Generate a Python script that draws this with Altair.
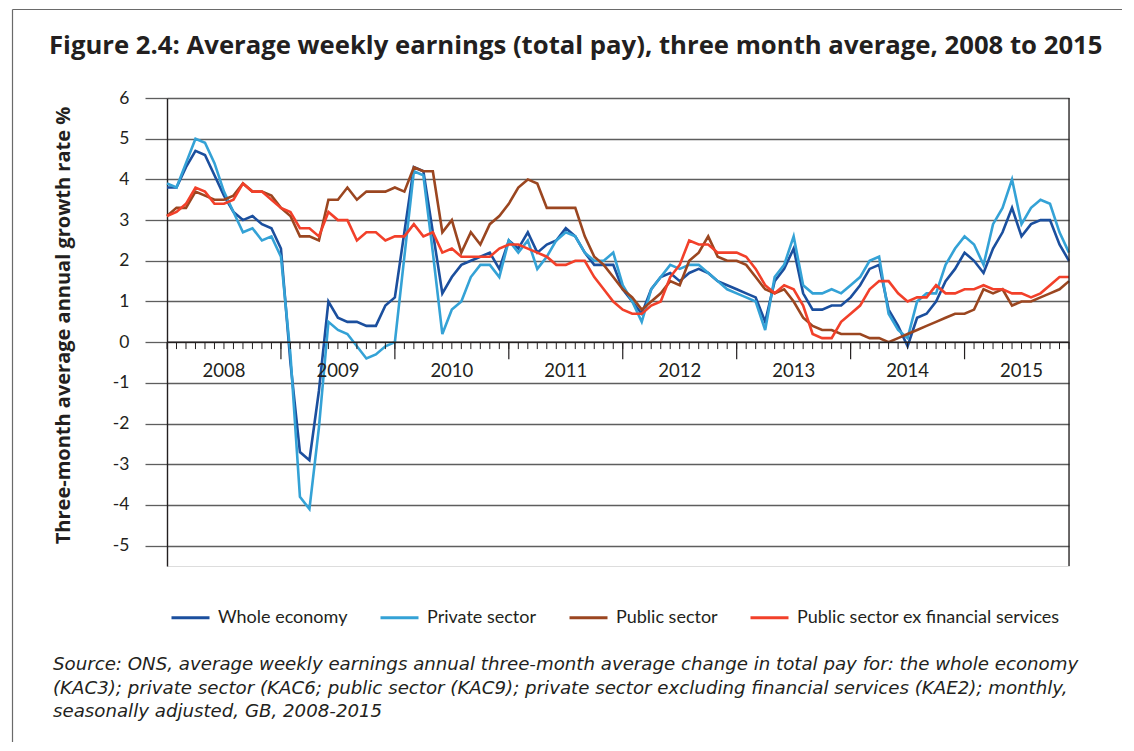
import altair as alt
import pandas as pd

# ---- data (monthly, Jan 2008 .. Dec 2015, index 0..95) ----
months = list(range(96))

whole_economy = [
    3.8, 3.8, 4.3, 4.7, 4.6, 4.1, 3.6, 3.2, 3.0, 3.1, 2.9, 2.8,
    2.3, -0.5, -2.7, -2.9, -1.2, 1.0, 0.6, 0.5, 0.5, 0.4, 0.4, 0.9,
    1.1, 2.7, 4.3, 4.2, 2.7, 1.2, 1.6, 1.9, 2.0, 2.1, 2.2, 1.8,
    2.5, 2.3, 2.7, 2.2, 2.4, 2.5, 2.8, 2.6, 2.2, 1.9, 1.9, 1.9,
    1.3, 1.0, 0.7, 1.3, 1.6, 1.7, 1.5, 1.7, 1.8, 1.7, 1.5, 1.4,
    1.3, 1.2, 1.1, 0.5, 1.5, 1.8, 2.3, 1.2, 0.8, 0.8, 0.9, 0.9,
    1.1, 1.4, 1.8, 1.9, 0.8, 0.4, -0.1, 0.6, 0.7, 1.0, 1.5, 1.8,
    2.2, 2.0, 1.7, 2.3, 2.7, 3.3, 2.6, 2.9, 3.0, 3.0, 2.4, 2.0,
]
private_sector = [
    3.9, 3.8, 4.4, 5.0, 4.9, 4.4, 3.7, 3.2, 2.7, 2.8, 2.5, 2.6,
    2.1, -0.3, -3.8, -4.1, -2.1, 0.5, 0.3, 0.2, -0.1, -0.4, -0.3, -0.1,
    0.0, 2.1, 4.2, 4.1, 2.2, 0.2, 0.8, 1.0, 1.6, 1.9, 1.9, 1.6,
    2.5, 2.2, 2.5, 1.8, 2.1, 2.5, 2.7, 2.6, 2.2, 2.0, 2.0, 2.2,
    1.4, 1.0, 0.5, 1.3, 1.6, 1.9, 1.8, 1.9, 1.9, 1.7, 1.5, 1.3,
    1.2, 1.1, 1.0, 0.3, 1.6, 1.9, 2.6, 1.4, 1.2, 1.2, 1.3, 1.2,
    1.4, 1.6, 2.0, 2.1, 0.7, 0.3, 0.1, 1.0, 1.2, 1.2, 1.9, 2.3,
    2.6, 2.4, 1.9, 2.9, 3.3, 4.0, 2.9, 3.3, 3.5, 3.4, 2.7, 2.2,
]
public_sector = [
    3.1, 3.3, 3.3, 3.7, 3.6, 3.5, 3.5, 3.6, 3.9, 3.7, 3.7, 3.6,
    3.3, 3.1, 2.6, 2.6, 2.5, 3.5, 3.5, 3.8, 3.5, 3.7, 3.7, 3.7,
    3.8, 3.7, 4.3, 4.2, 4.2, 2.7, 3.0, 2.2, 2.7, 2.4, 2.9, 3.1,
    3.4, 3.8, 4.0, 3.9, 3.3, 3.3, 3.3, 3.3, 2.6, 2.1, 1.9, 1.6,
    1.3, 1.1, 0.8, 1.0, 1.2, 1.5, 1.4, 2.0, 2.2, 2.6, 2.1, 2.0,
    2.0, 1.9, 1.6, 1.3, 1.2, 1.3, 1.0, 0.6, 0.4, 0.3, 0.3, 0.2,
    0.2, 0.2, 0.1, 0.1, 0.0, 0.1, 0.2, 0.3, 0.4, 0.5, 0.6, 0.7,
    0.7, 0.8, 1.3, 1.2, 1.3, 0.9, 1.0, 1.0, 1.1, 1.2, 1.3, 1.5,
]
public_ex_fin = [
    3.1, 3.2, 3.4, 3.8, 3.7, 3.4, 3.4, 3.5, 3.9, 3.7, 3.7, 3.5,
    3.3, 3.2, 2.8, 2.8, 2.6, 3.2, 3.0, 3.0, 2.5, 2.7, 2.7, 2.5,
    2.6, 2.6, 2.9, 2.6, 2.7, 2.2, 2.3, 2.1, 2.1, 2.1, 2.1, 2.3,
    2.4, 2.4, 2.3, 2.2, 2.1, 1.9, 1.9, 2.0, 2.0, 1.6, 1.3, 1.0,
    0.8, 0.7, 0.7, 0.9, 1.0, 1.6, 1.9, 2.5, 2.4, 2.4, 2.2, 2.2,
    2.2, 2.1, 1.8, 1.4, 1.2, 1.4, 1.3, 0.9, 0.2, 0.1, 0.1, 0.5,
    0.7, 0.9, 1.3, 1.5, 1.5, 1.2, 1.0, 1.1, 1.1, 1.4, 1.2, 1.2,
    1.3, 1.3, 1.4, 1.3, 1.3, 1.2, 1.2, 1.1, 1.2, 1.4, 1.6, 1.6,
]

series_names = ["Whole economy", "Private sector", "Public sector",
                "Public sector ex financial services"]
series_colors = ["#1b4f9e", "#34a2d6", "#9b4620", "#f2402a"]

year_labels = ["2008", "2009", "2010", "2011", "2012", "2013", "2014", "2015"]
year_centers = [6, 18, 30, 42, 54, 66, 78, 90]
major_ticks = [12, 24, 36, 48, 60, 72, 84]
y_ticks = [-5, -4, -3, -2, -1, 0, 1, 2, 3, 4, 5, 6]

title_text = "Figure 2.4: Average weekly earnings (total pay), three month average, 2008 to 2015"
source_lines = [
    "Source: ONS, average weekly earnings annual three-month average change in total pay for: the whole economy",
    "(KAC3); private sector (KAC6; public sector (KAC9); private sector excluding financial services (KAE2); monthly,",
    "seasonally adjusted, GB, 2008-2015",
]

FONT = "Lato"
FONT2 = "Open Sans"
FONT3 = "DejaVu Sans"
INK = "#231f20"
GRID = "#5e5e5e"

rows = []
for name, vals in zip(series_names, [whole_economy, private_sector, public_sector, public_ex_fin]):
    for m, v in zip(months, vals):
        rows.append({"month": m, "value": v, "series": name})
df = pd.DataFrame(rows)

xscale = alt.Scale(domain=[0, 95], nice=False, zero=False)
yscale = alt.Scale(domain=[-5.5, 6], nice=False, zero=False)

y_axis = alt.Axis(
    values=y_ticks, grid=True, gridColor=GRID, gridWidth=1.3,
    domainColor=INK, domainWidth=1.4,
    tickColor=GRID, tickSize=22, tickWidth=1.3,
    labelFont=FONT, labelFontSize=17.5, labelColor=INK, labelPadding=16,
    labelExpr="'' + datum.value",
    title="Three-month average annual growth rate %",
    titleFont=FONT2, titleFontSize=20, titleFontWeight="bold", titleColor=INK,
    titleX=-94, titleY=227, titleBaseline="bottom")

lines = alt.Chart(df).mark_line(strokeWidth=2.6).encode(
    x=alt.X("month:Q", scale=xscale, axis=None),
    y=alt.Y("value:Q", scale=yscale, axis=y_axis),
    color=alt.Color("series:N", scale=alt.Scale(domain=series_names, range=series_colors),
                    legend=alt.Legend(orient="none", legendX=3, legendY=499, direction="horizontal",
                                      title=None, symbolType="stroke", symbolStrokeWidth=3,
                                      symbolSize=1444, labelFont=FONT, labelFontSize=18,
                                      labelColor=INK, labelLimit=500, columnPadding=26,
                                      labelOffset=7, padding=0)),
)

xaxis_line = alt.Chart(pd.DataFrame({"a": [0]})).mark_rule(color=INK, strokeWidth=1.5).encode(
    x=alt.XDatum(0, scale=xscale, axis=None), x2=alt.X2Datum(95),
    y=alt.YDatum(0, scale=yscale, axis=y_axis))

minor = alt.Chart(pd.DataFrame({"m": months})).mark_rule(color=INK, strokeWidth=1).encode(
    x=alt.X("m:Q", scale=xscale, axis=None),
    y=alt.YDatum(0, scale=yscale, axis=y_axis), y2=alt.Y2Datum(-0.17))

major = alt.Chart(pd.DataFrame({"m": major_ticks})).mark_rule(color=INK, strokeWidth=1.2).encode(
    x=alt.X("m:Q", scale=xscale, axis=None),
    y=alt.YDatum(0, scale=yscale, axis=y_axis), y2=alt.Y2Datum(-0.42))

years = alt.Chart(pd.DataFrame({"x": year_centers, "label": year_labels})).mark_text(
    font=FONT, fontSize=18.5, color=INK, baseline="middle", align="center").encode(
    x=alt.X("x:Q", scale=xscale, axis=None),
    y=alt.YDatum(-0.7, scale=yscale, axis=y_axis), text="label:N")

right_border = alt.Chart(pd.DataFrame({"a": [0]})).mark_rule(color=INK, strokeWidth=1.3).encode(
    x=alt.XDatum(95, scale=xscale, axis=None),
    y=alt.YDatum(-5.5, scale=yscale, axis=y_axis), y2=alt.Y2Datum(6))

title = alt.Chart(pd.DataFrame({"t": [title_text]})).mark_text(
    font=FONT2, fontSize=25.7, fontWeight="bold", color=INK,
    align="left", baseline="middle").encode(
    x=alt.value(-118), y=alt.value(-52), text="t:N")

src_layers = []
for k, line in enumerate(source_lines):
    src_layers.append(
        alt.Chart(pd.DataFrame({"t": [line]})).mark_text(
            font=FONT3, fontSize=18.2, fontStyle="italic", color=INK,
            align="left", baseline="middle").encode(
            x=alt.value(-114), y=alt.value(567 + 23.5 * k), text="t:N"))

frame_left = alt.Chart(pd.DataFrame({"a": [0]})).mark_rule(color="#6a6a6a", strokeWidth=1.2).encode(
    x=alt.value(-154.5), y=alt.value(-88.5), y2=alt.value(644))
frame_top = alt.Chart(pd.DataFrame({"a": [0]})).mark_rule(color="#6a6a6a", strokeWidth=1.2).encode(
    x=alt.value(-154.5), x2=alt.value(955), y=alt.value(-88.5))

chart = alt.layer(
    lines, minor, major, right_border, xaxis_line, years, frame_left, frame_top, title, *src_layers
).properties(
    width=902, height=468,
    padding={"left": 3, "top": 0, "right": 0, "bottom": 0},
).configure_view(strokeWidth=0).configure(font=FONT)

chart.save("out.html", embed_options={"renderer": "svg", "actions": False})
